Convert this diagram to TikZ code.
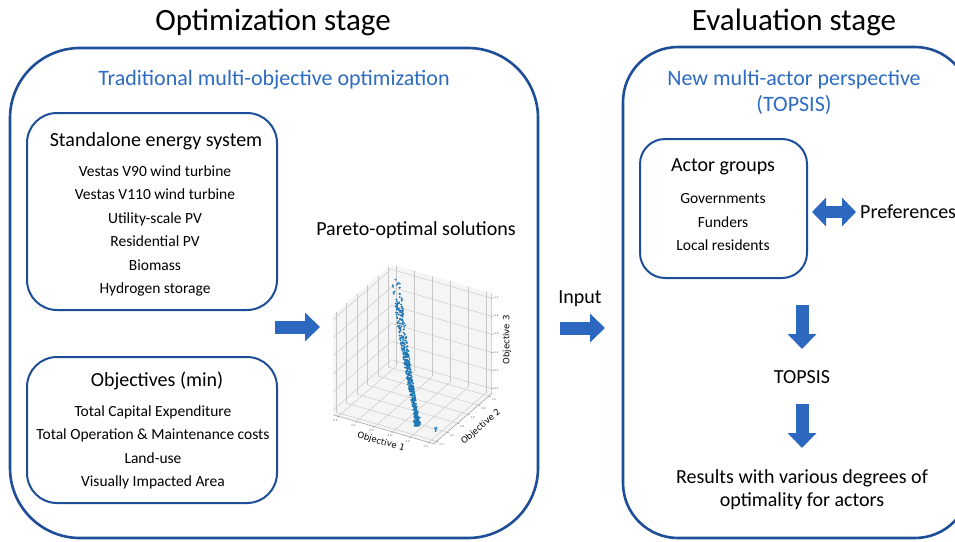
\documentclass[tikz,border=0pt]{standalone}
\usepackage{fontspec}
\setmainfont{Carlito}
\newfontfamily\plotfont{DejaVu Sans}
\usetikzlibrary{arrows.meta}
\definecolor{boxblue}{RGB}{31,78,152}
\definecolor{titleblue}{RGB}{46,108,194}
\definecolor{arrowblue}{RGB}{44,104,192}
\definecolor{dotblue}{RGB}{31,119,180}
\begin{document}
\begin{tikzpicture}[x=1pt,y=-1pt,
  ttl/.style={font=\fontsize{31}{37}\selectfont, anchor=base, inner sep=0},
  btitle/.style={font=\fontsize{22}{26}\selectfont, text=titleblue, anchor=base, inner sep=0},
  hd/.style={font=\fontsize{20}{24}\selectfont, anchor=base, inner sep=0},
  item/.style={font=\fontsize{15.5}{18}\selectfont, anchor=base, inner sep=0},
  bigbox/.style={draw=boxblue, line width=2.6pt, inner sep=0},
  smallbox/.style={draw=boxblue, line width=2pt, inner sep=0},
  blockarrow/.style={draw=arrowblue, line width=13pt, -{Triangle[width=28pt,length=15pt]}},
  dblarrow/.style={draw=arrowblue, line width=12pt, {Triangle[width=28pt,length=14pt]}-{Triangle[width=28pt,length=14pt]}},
  pane/.style={fill=black!4},
  gridl/.style={draw=black!22, line width=0.45pt},
  axl/.style={draw=black!45, line width=0.4pt},
  tick/.style={font=\plotfont\fontsize{2.6}{3}\selectfont, text=black!60, inner sep=0},
  axlab/.style={font=\plotfont\fontsize{8.6}{10}\selectfont, inner sep=0},
]
\useasboundingbox (0,0) rectangle (955,541);
\fill[white] (0,0) rectangle (955,541);

% stage titles
\node[ttl] (t1) at (273,30) {Optimization stage};
\node[ttl] (t2) at (794,30) {Evaluation stage};

% big boxes
\node[bigbox, rounded corners=70pt, minimum width=528pt, minimum height=490pt] (optbox) at (274,293) {};
\node[bigbox, rounded corners=55pt, minimum width=347pt, minimum height=491pt] (evalbox) at (796.5,292.5) {};

\node[btitle] (bt1) at (274,85) {Traditional multi-objective optimization};
\node[btitle] (bt2) at (794,85) {New multi-actor perspective};
\node[btitle] (bt3) at (794,111) {(TOPSIS)};

% standalone energy system
\node[smallbox, rounded corners=30pt, minimum width=250pt, minimum height=197pt] (sbox) at (152,211.5) {};
\node[hd] (sh) at (156,146) {Standalone energy system};
\foreach \txt [count=\i] in {Vestas V90 wind turbine, Vestas V110 wind turbine, Utility-scale PV, Residential PV, Biomass, Hydrogen storage}
  \node[item] (s\i) at (155,{176.5+23.4*(\i-1)}) {\txt};

% objectives
\node[smallbox, rounded corners=30pt, minimum width=250pt, minimum height=146pt] (obox) at (152,430) {};
\node[hd] (oh) at (157,386) {Objectives (min)};
\foreach \txt [count=\i] in {Total Capital Expenditure, Total Operation \& Maintenance costs, Land-use, Visually Impacted Area}
  \node[item] (o\i) at (153,{416.5+23.4*(\i-1)}) {\txt};

% arrows left
\coordinate (a1s) at (275,327);
\coordinate (a1e) at (320,327);
\draw[blockarrow] (a1s) -- (a1e);

\node[hd] (par) at (416,235) {Pareto-optimal solutions};

% 3D plot
\begin{scope}[shift={(412.5,354)}, x={(50.2pt,-14.5pt)}, y={(29pt,25.1pt)}, z={(0pt,50.2pt)}]
  \fill[pane] (-1,-1,-1) -- (-1,1,-1) -- (-1,1,1) -- (-1,-1,1) -- cycle;
  \fill[pane] (-1,1,-1) -- (1,1,-1) -- (1,1,1) -- (-1,1,1) -- cycle;
  \fill[pane] (-1,-1,-1) -- (1,-1,-1) -- (1,1,-1) -- (-1,1,-1) -- cycle;
  \foreach \g in {-0.9,-0.54,-0.18,0.18,0.54,0.9}{
    \draw[gridl] (-1,\g,-1) -- (-1,\g,1);
    \draw[gridl] (-1,-1,\g) -- (-1,1,\g);
    \draw[gridl] (\g,1,-1) -- (\g,1,1);
    \draw[gridl] (-1,1,\g) -- (1,1,\g);
    \draw[gridl] (\g,-1,-1) -- (\g,1,-1);
    \draw[gridl] (-1,\g,-1) -- (1,\g,-1);
  }
  \draw[axl] (-1,-1,-1) -- (1,-1,-1) -- (1,1,-1) -- (1,1,1);
  \foreach \g/\v [count=\i] in {-0.9/0.0,-0.54/0.2,-0.18/0.4,0.18/0.6,0.54/0.8,0.9/1.0}{
    \draw[axl] (\g,-1,-1) -- (\g,-1.04,-1);
    \draw[axl] (1,\g,-1) -- (1.04,\g,-1);
    \draw[axl] (1,1,\g) -- (1.03,1.03,\g);
    \node[tick] (tx\i) at (\g,-1.1,-1.03) {\v};
    \node[tick] (ty\i) at (1.1,\g,-1.03) {\v};
    \node[tick, anchor=west] (tz\i) at (1.03,1.03,\g) {\v};
  }
\end{scope}

% data points
\pgfmathsetseed{42}
\foreach \i in {1,...,480}{
  \pgfmathsetmacro\tt{min(1,(rnd+0.002)^0.55)}
  \pgfmathsetmacro\jx{(2.8*(1-\tt)+1.8)*(2*rnd-1)}
  \pgfmathsetmacro\px{396+22*\tt^1.3+\jx}
  \pgfmathsetmacro\py{273+152*\tt+1.3*(2*rnd-1)}
  \fill[dotblue] (\px,\py) circle[radius=1.0];
}
\foreach \i in {1,...,45}{
  \pgfmathsetmacro\px{417+3*(2*rnd-1)}
  \pgfmathsetmacro\py{421+5*(2*rnd-1)}
  \fill[dotblue] (\px,\py) circle[radius=1.0];
}
\foreach \px/\py in {435/428,436/429.5,435.5/431,436.5/427.5}
  \fill[dotblue] (\px,\py) circle[radius=1.0];

\node[axlab, rotate=-16] (ax1) at (381,442) {Objective 1};
\node[axlab, rotate=41] (ax2) at (481,427) {Objective 2};
\node[axlab, rotate=90] (ax3) at (507,340) {Objective 3};

% input arrow
\node[hd] (inp) at (580,303) {Input};
\coordinate (a2s) at (560,328);
\coordinate (a2e) at (605,328);
\draw[blockarrow] (a2s) -- (a2e);

% actor groups
\node[smallbox, rounded corners=25pt, minimum width=167pt, minimum height=139pt] (abox) at (723.5,208.5) {};
\node[hd] (ah) at (723,171) {Actor groups};
\foreach \txt [count=\i] in {Governments, Funders, Local residents}
  \node[item] (g\i) at (723,{203.7+23.5*(\i-1)}) {\txt};

\coordinate (d0s) at (812,212);
\coordinate (d0e) at (856,212);
\draw[dblarrow] (d0s) -- (d0e);
\node[hd, anchor=base west] (pref) at (860,218) {Preferences};

% TOPSIS flow
\coordinate (d1s) at (802,305);
\coordinate (d1e) at (802,349);
\draw[blockarrow] (d1s) -- (d1e);
\node[hd] (tops) at (802,383) {TOPSIS};
\coordinate (d2s) at (802,404);
\coordinate (d2e) at (802,448);
\draw[blockarrow] (d2s) -- (d2e);
\node[hd] (r1) at (802,483) {Results with various degrees of};
\node[hd] (r2) at (802,506) {optimality for actors};
\end{tikzpicture}
\end{document}
